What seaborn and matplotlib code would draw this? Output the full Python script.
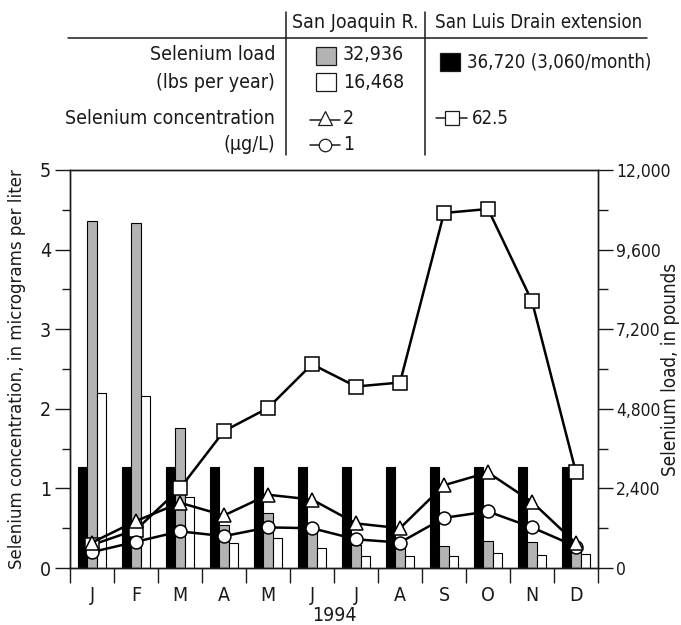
import numpy as np
import pandas as pd
import matplotlib; matplotlib.use("Agg")
import matplotlib.pyplot as plt
import seaborn as sns
from matplotlib.ticker import MultipleLocator, FixedLocator, FuncFormatter
from matplotlib.patches import Rectangle

# ─── Data ───────────────────────────────────────────────────
months      = ["J", "F", "M", "A", "M", "J", "J", "A", "S", "O", "N", "D"]
sld_load    = [3060, 3060, 3060, 3060, 3060, 3060, 3060, 3060, 3060, 3060, 3060, 3060]
sjr_load_hi = [10460, 10390, 4220, 1300, 1660, 1150, 700, 600, 650, 800, 770, 730]
sjr_load_lo = [5270, 5200, 2130, 750, 900, 590, 370, 350, 370, 450, 400, 410]
conc_sld    = [0.29, 0.48, 1.00, 1.72, 2.01, 2.56, 2.28, 2.33, 4.46, 4.51, 3.35, 1.20]
conc_tri    = [0.32, 0.59, 0.82, 0.66, 0.92, 0.86, 0.56, 0.50, 1.04, 1.20, 0.83, 0.31]
conc_circ   = [0.20, 0.33, 0.46, 0.40, 0.51, 0.50, 0.36, 0.32, 0.63, 0.71, 0.51, 0.27]

SERIES = ["San Luis Drain extension", "San Joaquin R. (32,936)", "San Joaquin R. (16,468)"]
COLORS = ["black", "#b3b3b3", "white"]

sns.set_theme(style="white")
plt.rcParams["font.family"] = ["DejaVu Sans"]
plt.rcParams["font.stretch"] = "condensed"
plt.rcParams["axes.linewidth"] = 1.0
INK = "#1a1a1a"

fig = plt.figure(figsize=(6.81, 6.25), dpi=100)
ax  = fig.add_axes([70/681, 1-568/625, 528/681, 398/625])
ax2 = ax.twinx()

# ─── Bars (right axis: load) ────────────────────────────────
idx = np.arange(len(months))
df_load = pd.DataFrame({
    "idx":    np.concatenate([idx, idx, idx]),
    "load":   np.concatenate([sld_load, sjr_load_hi, sjr_load_lo]),
    "series": np.repeat(SERIES, len(months)),
})
sns.barplot(data=df_load, x="idx", y="load", hue="series", hue_order=SERIES,
            palette=COLORS, saturation=1, width=0.62, gap=0, errorbar=None,
            edgecolor="black", linewidth=0.8, legend=False, ax=ax2)

# ─── Lines (left axis: concentration) ───────────────────────
line_kw = dict(color="black", linewidth=1.8, markerfacecolor="white",
               markeredgecolor="black", markeredgewidth=1.1, ax=ax)
sns.lineplot(x=idx, y=conc_sld,  marker="s", markersize=9.5, zorder=3, **line_kw)
sns.lineplot(x=idx, y=conc_circ, marker="o", markersize=9.3, zorder=4, **line_kw)
sns.lineplot(x=idx, y=conc_tri,  marker="^", markersize=10.5, zorder=5, **line_kw)

ax.set_zorder(ax2.get_zorder() + 1)
ax.patch.set_visible(False)

# ─── Axes styling ───────────────────────────────────────────
ax.set_xlim(-0.5, 11.5)
ax.set_ylim(0, 5)
ax2.set_ylim(0, 12000)

ax.xaxis.set_major_locator(FixedLocator(idx))
ax.set_xticklabels(months)
ax.xaxis.set_minor_locator(FixedLocator(np.arange(-0.5, 12, 1)))
ax.tick_params(axis="x", which="major", length=0, pad=13, labelsize=14, colors=INK)
ax.tick_params(axis="x", which="minor", length=10.8, width=1.0, color=INK, bottom=True)

ax.yaxis.set_major_locator(MultipleLocator(1))
ax.yaxis.set_minor_locator(MultipleLocator(0.5))
ax.tick_params(axis="y", which="major", length=10.8, width=1.0, pad=3, labelsize=14, colors=INK, left=True)
ax.tick_params(axis="y", which="minor", length=5.8, width=1.0, color=INK, left=True)

ax2.yaxis.set_major_locator(MultipleLocator(2400))
ax2.yaxis.set_minor_locator(MultipleLocator(1200))
ax2.yaxis.set_major_formatter(FuncFormatter(lambda v, p: f"{v:,.0f}"))
ax2.tick_params(axis="y", which="major", length=10.8, width=1.0, pad=2, labelsize=12.5, colors=INK, right=True)
ax2.tick_params(axis="y", which="minor", length=7.2, width=1.0, color=INK, right=True)

for a in (ax, ax2):
    for s in a.spines.values():
        s.set_visible(True); s.set_color(INK); s.set_linewidth(1.0)

ax.set_xlabel("1994", fontsize=14, color=INK)
ax.xaxis.set_label_coords(0.5, -0.095)
ax.set_ylabel("Selenium concentration, in micrograms per liter", fontsize=13.3, color=INK)
ax.yaxis.set_label_coords(-0.083, 0.5)
ax2.set_ylabel("Selenium load, in pounds", fontsize=13.5, color=INK, rotation=90)
ax2.yaxis.set_label_coords(1.12, 0.5)

# ─── Legend table (top) ─────────────────────────────────────
lax = fig.add_axes([0, 1-165/625, 1, 165/625])
lax.set_xlim(0, 681); lax.set_ylim(165, 0); lax.axis("off")
txt  = dict(fontsize=14, color=INK, va="center")
txt2 = dict(fontsize=13.4, color=INK, va="center")

lax.plot([68, 647], [38, 38], color=INK, lw=1.1)
lax.plot([286, 286], [12, 155], color=INK, lw=1.1)
lax.plot([425, 425], [12, 155], color=INK, lw=1.1)

lax.text(355, 23, "San Joaquin R.", ha="center", **txt)
lax.text(435, 23, "San Luis Drain extension", ha="left", **txt2)
lax.text(275, 55, "Selenium load", ha="right", **txt)
lax.text(275, 82, "(lbs per year)", ha="right", **txt)
lax.text(275, 118, "Selenium concentration", ha="right", **txt)
lax.text(275, 145, "(\u00b5g/L)", ha="right", **txt)

lax.add_patch(Rectangle((316, 47), 20, 18, facecolor=COLORS[1], edgecolor=INK, lw=0.9))
lax.text(343, 55, "32,936", ha="left", **txt)
lax.add_patch(Rectangle((316, 73), 20, 18, facecolor=COLORS[2], edgecolor=INK, lw=0.9))
lax.text(343, 82, "16,468", ha="left", **txt)
lax.add_patch(Rectangle((440, 53), 20, 18, facecolor=COLORS[0], edgecolor=INK, lw=0.9))
lax.text(467, 62, "36,720 (3,060/month)", ha="left", **txt2)

mk = dict(color=INK, lw=1.1, markerfacecolor="white", markeredgecolor=INK, markeredgewidth=0.9)
lax.plot([310, 340], [120, 120], **mk)
lax.plot([325], [118], marker="^", markersize=10, **mk)
lax.text(343, 118, "2", ha="left", **txt)
lax.plot([310, 340], [145, 145], **mk)
lax.plot([325], [145], marker="o", markersize=9, **mk)
lax.text(343, 145, "1", ha="left", **txt)
lax.plot([436, 467], [118, 118], **mk)
lax.plot([452], [118], marker="s", markersize=10, **mk)
lax.text(472, 118, "62.5", ha="left", **txt2)

plt.savefig("out.png", dpi=100)
